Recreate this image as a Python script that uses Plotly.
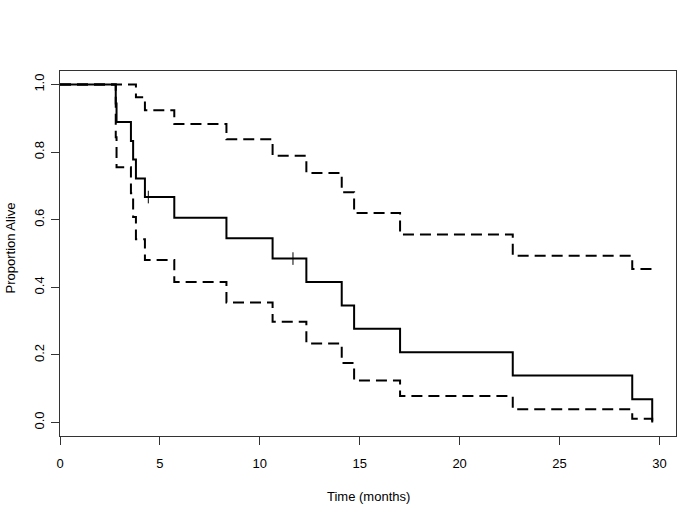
import plotly.graph_objects as go

# Kaplan-Meier estimate
surv_time = [0, 2.79, 2.83, 3.55, 3.66, 3.80, 4.25, 5.72, 8.33, 10.64, 12.33, 14.10, 14.72, 17.02, 22.66, 28.64, 29.64]
surv_prob = [1.0, 0.944, 0.889, 0.833, 0.778, 0.722, 0.667, 0.606, 0.545, 0.485, 0.416, 0.346, 0.277, 0.208, 0.139, 0.069, 0.0]

# Upper confidence limit
upper_time = [0, 3.80, 4.25, 5.72, 8.33, 10.64, 12.33, 14.10, 14.72, 17.02, 22.66, 28.64, 29.64]
upper_prob = [1.0, 0.962, 0.924, 0.883, 0.838, 0.789, 0.738, 0.681, 0.620, 0.556, 0.493, 0.454, 0.454]

# Lower confidence limit
lower_time = [0, 2.79, 2.83, 3.55, 3.66, 3.80, 4.25, 5.72, 8.33, 10.64, 12.33, 14.10, 14.72, 17.02, 22.66, 28.64, 29.64]
lower_prob = [1.0, 0.844, 0.755, 0.678, 0.608, 0.542, 0.481, 0.416, 0.355, 0.298, 0.234, 0.176, 0.124, 0.078, 0.039, 0.011, 0.0]

# Censored observations
cens_time = [4.42, 11.66]
cens_prob = [0.667, 0.485]

x_ticks = [0, 5, 10, 15, 20, 25, 30]
y_ticks = [0.0, 0.2, 0.4, 0.6, 0.8, 1.0]
y_ticklabels = ["0.0", "0.2", "0.4", "0.6", "0.8", "1.0"]

FONT = "Liberation Sans, Arial, sans-serif"
FS = 13
dash = "11px,6px"

fig = go.Figure()
fig.add_trace(go.Scatter(x=upper_time, y=upper_prob, mode="lines", line_shape="hv",
                         line=dict(color="black", width=2, dash=dash), showlegend=False))
fig.add_trace(go.Scatter(x=lower_time, y=lower_prob, mode="lines", line_shape="hv",
                         line=dict(color="black", width=2, dash=dash), showlegend=False))
fig.add_trace(go.Scatter(x=surv_time, y=surv_prob, mode="lines", line_shape="hv",
                         line=dict(color="black", width=2), showlegend=False))
fig.add_trace(go.Scatter(x=cens_time, y=cens_prob, mode="markers",
                         marker=dict(symbol="line-ns", size=9, line=dict(color="black", width=1)),
                         showlegend=False))

fig.update_layout(
    width=685, height=513,
    margin=dict(l=60, r=9, t=71, b=77, autoexpand=False),
    paper_bgcolor="white", plot_bgcolor="white",
    font=dict(family=FONT, size=FS, color="black"),
    xaxis=dict(range=[0, 30.83], tickvals=x_ticks, ticks="outside", ticklen=8,
               tickcolor="#333", showline=True, linecolor="#333", linewidth=1,
               mirror=True, showgrid=False, zeroline=False, ticklabelstandoff=7,
               automargin=False, tickfont=dict(size=FS)),
    yaxis=dict(range=[-0.04, 1.04], tickvals=y_ticks, ticktext=y_ticklabels,
               ticks="outside", ticklen=8, tickcolor="#333", showline=True,
               linecolor="#333", linewidth=1, mirror=True, showgrid=False,
               zeroline=False, tickangle=-90, ticklabelstandoff=2,
               automargin=False, tickfont=dict(size=FS)),
    annotations=[
        dict(text="Time (months)", xref="paper", yref="paper", x=0.5, y=0,
             yshift=-60, xanchor="center", yanchor="middle", showarrow=False,
             font=dict(size=FS)),
        dict(text="Proportion Alive", xref="paper", yref="paper", x=0, y=0.5,
             xshift=-50, yshift=5, xanchor="center", yanchor="middle", textangle=-90,
             showarrow=False, font=dict(size=FS)),
    ],
)

fig.write_html("out.html", config={"displayModeBar": False},
               post_script="document.body.style.margin='0';document.body.style.overflow='hidden';")
